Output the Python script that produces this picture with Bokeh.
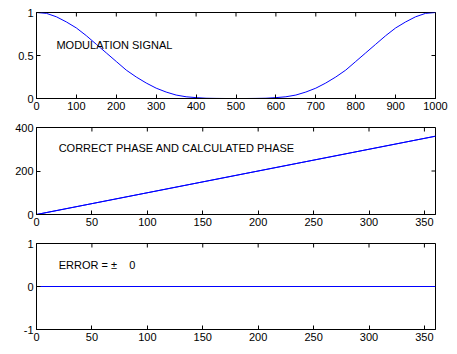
import math
from bokeh.plotting import figure
from bokeh.layouts import column
from bokeh.models import Range1d, FixedTicker, LinearAxis, Label
from bokeh.embed import file_html
from bokeh.resources import INLINE

# ---- data ----
mod_x = [0, 25, 50, 75, 100, 125, 150, 175, 200, 225, 250, 275, 300, 325, 350, 375, 400, 425, 450, 475, 500,
         525, 550, 575, 600, 625, 650, 675, 700, 725, 750, 775, 800, 825, 850, 875, 900, 925, 950, 975, 1000]
mod_y = [1.00, 0.99, 0.95, 0.89, 0.82, 0.73, 0.63, 0.53, 0.43, 0.33, 0.25, 0.18, 0.12, 0.075, 0.04, 0.02, 0.01, 0.003, 0.001, 0.0, 0.0,
         0.0, 0.001, 0.003, 0.01, 0.02, 0.04, 0.075, 0.12, 0.18, 0.25, 0.33, 0.43, 0.53, 0.63, 0.73, 0.82, 0.89, 0.95, 0.99, 1.00]

phase_x = [0, 360]
correct_phase = [0, 360]
calculated_phase = [0, 360]

error_x = [0, 360]
error_y = [0, 0]

mod_xticks = [0, 100, 200, 300, 400, 500, 600, 700, 800, 900, 1000]
mod_xlabels = ["0", "100", "200", "300", "400", "500", "600", "700", "800", "900", "1000"]
mod_yticks = [0, 0.5, 1]
mod_ylabels = ["0", "0.5", "1"]

deg_xticks = [0, 50, 100, 150, 200, 250, 300, 350]
deg_xlabels = ["0", "50", "100", "150", "200", "250", "300", "350"]
phase_yticks = [0, 200, 400]
phase_ylabels = ["0", "200", "400"]
err_yticks = [-1, 0, 1]
err_ylabels = ["-1", "0", "1"]

titles = ["MODULATION SIGNAL", "CORRECT PHASE AND CALCULATED PHASE",
          "ERROR = \u00b1\u00a0\u00a0\u00a0\u00a00"]

FONT = "Liberation Sans"
FS = "11px"
BLUE = "#0000ff"


def make_fig(xr, yr, xt, xl, yt, yl, height, top, bottom):
    p = figure(width=457, height=height, x_range=Range1d(*xr), y_range=Range1d(*yr),
               output_backend="svg", toolbar_location=None, x_axis_location=None,
               y_axis_location=None)
    p.min_border_left = 36
    p.min_border_right = 22
    p.min_border_top = top
    p.min_border_bottom = bottom
    p.grid.visible = False
    p.outline_line_color = "black"
    p.outline_line_width = 1
    p.background_fill_color = "white"
    p.border_fill_color = "white"
    for loc, ticks, labs in (("below", xt, xl), ("left", yt, yl)):
        ax = LinearAxis(ticker=FixedTicker(ticks=ticks))
        ax.major_tick_in = 4
        ax.major_tick_out = 0
        ax.minor_tick_line_color = None
        ax.axis_line_color = "black"
        ax.major_tick_line_color = "black"
        ax.major_label_overrides = {t: s for t, s in zip(ticks, labs)}
        ax.major_label_text_font = FONT
        ax.major_label_text_font_size = FS
        ax.major_label_text_color = "black"
        ax.major_label_standoff = 3
        p.add_layout(ax, loc)
    # inward ticks on the top and right edges of the box (half of each dash is clipped)
    p.scatter(xt, [yr[1]] * len(xt), marker="dash", size=8, angle=math.pi / 2,
              line_color="black", line_width=1)
    p.scatter([xr[1]] * len(yt), yt, marker="dash", size=8, angle=0,
              line_color="black", line_width=1)
    return p


p1 = make_fig((0, 1000), (0, 1), mod_xticks, mod_xlabels, mod_yticks, mod_ylabels, 118, 12, 20)
p1.line(mod_x, mod_y, line_color=BLUE, line_width=1)
p1.add_layout(Label(x=50, y=0.62, text=titles[0], text_font=FONT, text_font_size=FS,
                    text_baseline="middle", text_align="left", text_color="black"))

p2 = make_fig((0, 360), (0, 400), deg_xticks, deg_xlabels, phase_yticks, phase_ylabels, 116, 9, 20)
p2.line(phase_x, correct_phase, line_color=BLUE, line_width=1)
p2.line(phase_x, calculated_phase, line_color=BLUE, line_width=1)
p2.add_layout(Label(x=20, y=308, text=titles[1], text_font=FONT, text_font_size=FS,
                    text_baseline="middle", text_align="left", text_color="black"))

p3 = make_fig((0, 360), (-1, 1), deg_xticks, deg_xlabels, err_yticks, err_ylabels, 120, 9, 25)
p3.line(error_x, error_y, line_color=BLUE, line_width=1)
p3.add_layout(Label(x=20, y=0.51, text=titles[2], text_font=FONT, text_font_size=FS,
                    text_baseline="middle", text_align="left", text_color="black"))

layout = column(p1, p2, p3, spacing=0)
open("out.html", "w").write(file_html(layout, INLINE))
